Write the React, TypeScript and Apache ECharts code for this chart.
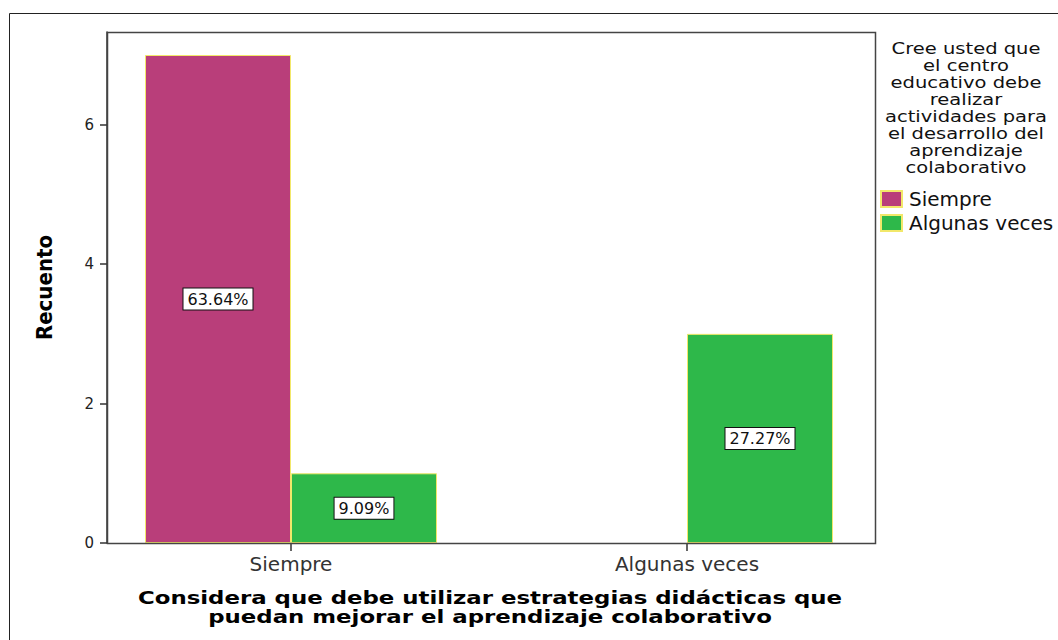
import React, { useEffect, useRef } from "react";
import * as echarts from "echarts";

const categories = ["Siempre", "Algunas veces"];
const seriesNames = ["Siempre", "Algunas veces"];
const siempreCounts = [7, 0];
const algunasCounts = [1, 3];
const siemprePct = ["63.64%", ""];
const algunasPct = ["9.09%", "27.27%"];
const yTicks = [0, 2, 4, 6];
const legendTitle = [
  "Cree usted que",
  "el centro",
  "educativo debe",
  "realizar",
  "actividades para",
  "el desarrollo del",
  "aprendizaje",
  "colaborativo",
];
const xTitle = [
  "Considera que debe utilizar estrategias didácticas que",
  "puedan mejorar el aprendizaje colaborativo",
];
const yTitle = "Recuento";

const FONT = "DejaVu Sans, Liberation Sans, Arial, sans-serif";

export default function App() {
  const ref = useRef<HTMLDivElement>(null);
  useEffect(() => {
    document.body.style.margin = "0";
    const chart = echarts.init(ref.current!, null, { renderer: "svg" });
    const labelStyle = {
      show: true,
      position: "inside",
      color: "#111",
      fontFamily: FONT,
      fontSize: 16,
      backgroundColor: "#fff",
      borderColor: "#111",
      borderWidth: 1,
      padding: [3, 4, 2, 4],
    };
    const mk = (vals: number[], pct: string[]) =>
      vals.map((v, i) => ({
        value: v,
        label: { ...labelStyle, show: v > 0, formatter: pct[i] },
        itemStyle: v > 0 ? {} : { borderWidth: 0, borderColor: "transparent" },
      }));
    chart.setOption({
      animation: false,
      backgroundColor: "#fff",
      grid: { left: 93, top: 32, width: 792, height: 511, containLabel: false },
      xAxis: {
        type: "category",
        data: categories,
        axisLine: { show: false },
        axisTick: { show: true, alignWithLabel: true, length: 8, lineStyle: { color: "#333", width: 1.5 } },
        axisLabel: { color: "#333", fontFamily: FONT, fontSize: 20, margin: 11 },
      },
      yAxis: {
        type: "value",
        min: 0,
        max: 7.33,
        interval: 2,
        offset: -14,
        name: yTitle,
        nameLocation: "middle",
        nameRotate: 90,
        nameGap: 52,
        nameTextStyle: {
          fontFamily: "Liberation Sans Narrow, DejaVu Sans Condensed, Liberation Sans, sans-serif",
          fontWeight: "bold",
          fontSize: 22,
          color: "#000",
        },
        splitLine: { show: false },
        axisLine: { show: true, lineStyle: { color: "#333", width: 1.5 } },
        axisTick: { show: true, length: 7, customValues: yTicks, lineStyle: { color: "#333", width: 1.5 } },
        axisLabel: { color: "#222", fontFamily: FONT, fontSize: 15, margin: 13, customValues: yTicks },
      },
      legend: {
        orient: "vertical",
        left: 875,
        top: 184,
        itemWidth: 21,
        itemHeight: 16,
        itemGap: 4,
        icon: "rect",
        data: seriesNames,
        textStyle: { fontFamily: FONT, fontSize: 20, color: "#111", padding: [0, 0, 0, 2] },
      },
      graphic: [
        {
          type: "rect",
          z: 100,
          shape: { x: 107.5, y: 32.5, width: 768, height: 511 },
          style: { fill: "none", stroke: "#444", lineWidth: 1.5 },
        },
        {
          type: "rect",
          z: 100,
          shape: { x: 9.5, y: 13.5, width: 1200, height: 800 },
          style: { fill: "none", stroke: "#222", lineWidth: 1 },
        },
        {
          type: "text",
          x: 966,
          y: 40,
          scaleX: 1.22,
          style: {
            text: legendTitle.join("\n"),
            textAlign: "center",
            textVerticalAlign: "top",
            fontFamily: FONT,
            fontSize: 16,
            lineHeight: 17,
            fill: "#111",
          },
        },
        {
          type: "text",
          x: 490,
          y: 588,
          scaleX: 1.27,
          style: {
            text: xTitle.join("\n"),
            textAlign: "center",
            textVerticalAlign: "top",
            fontFamily: FONT,
            fontWeight: "bold",
            fontSize: 18,
            lineHeight: 19,
            fill: "#000",
          },
        },
      ],
      series: [
        {
          name: seriesNames[0],
          type: "bar",
          barWidth: 146,
          barGap: "0%",
          data: mk(siempreCounts, siemprePct),
          itemStyle: { color: "#b93e7a", borderColor: "#f2e86a", borderWidth: 1 },
        },
        {
          name: seriesNames[1],
          type: "bar",
          barWidth: 146,
          barGap: "0%",
          data: mk(algunasCounts, algunasPct),
          itemStyle: { color: "#2eb84a", borderColor: "#f2e86a", borderWidth: 1 },
        },
      ],
    });
    return () => chart.dispose();
  }, []);
  return <div ref={ref} style={{ width: 1058, height: 640 }} />;
}
